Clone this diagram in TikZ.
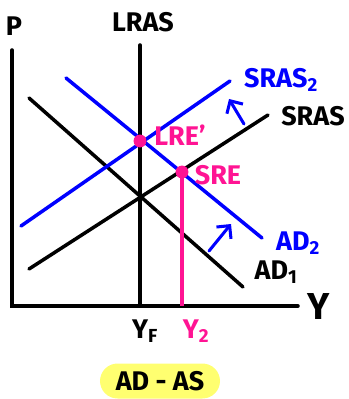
\documentclass[tikz,border=0pt]{standalone}
\usepackage{fontspec}
\setmainfont{Fira Sans}
\usetikzlibrary{arrows.meta, positioning}
\definecolor{hotpink}{HTML}{FF1493}
\definecolor{penblue}{HTML}{0000FF}
\definecolor{marker}{HTML}{FFFF70}

\begin{document}
\begin{tikzpicture}[
  x=0.03cm, y=-0.03cm,
  axis/.style={line width=3pt, line cap=round, black},
  curve/.style={line width=3pt, line cap=round},
  shiftarrow/.style={penblue, line width=2.6pt, line cap=round, -{Straight Barb[length=8pt, width=16pt, line width=2.6pt]}},
  lbl/.style={font=\fontsize{23}{23}\selectfont\bfseries, inner sep=0pt},
  eqdot/.style={circle, fill=hotpink, inner sep=0pt, minimum size=11pt},
]
\useasboundingbox (0,0) rectangle (349,399);

% Achsen
\coordinate (origin) at (12,306);
\coordinate (ptop) at (12,50);
\coordinate (yend) at (298,306);
\draw[axis] (ptop) -- (origin) -- (yend);
\node[lbl] (plabel) at (14,26) {P};
\node[lbl, font=\fontsize{32}{32}\selectfont\bfseries] (ylabel) at (319,307) {Y};

% LRAS
\coordinate (lrastop) at (140,45);
\coordinate (yf) at (140,306);
\draw[axis] (lrastop) -- (yf);
\node[lbl] (lraslabel) at (143,22) {LRAS};
\node[lbl] (yflabel) at (145,331) {Y\textsubscript{F}};

% Ausgangskurven
\coordinate (ad1a) at (29,98);
\coordinate (ad1b) at (243,287);
\coordinate (srasa) at (29,269);
\coordinate (srasb) at (268,115);
\draw[curve, black] (ad1a) -- (ad1b);
\draw[curve, black] (srasa) -- (srasb);

% verschobene Kurven
\coordinate (ad2a) at (66,78);
\coordinate (ad2b) at (262,238);
\coordinate (sras2a) at (21,226);
\coordinate (sras2b) at (230,81);
\draw[curve, penblue] (ad2a) -- (ad2b);
\draw[curve, penblue] (sras2a) -- (sras2b);

% Verschiebungspfeile
\coordinate (srasfrom) at (244,124);
\coordinate (srasto) at (229,99);
\coordinate (adfrom) at (209,251);
\coordinate (adto) at (231,224);
\draw[shiftarrow] (srasfrom) -- (srasto);
\draw[shiftarrow] (adfrom) -- (adto);

% Gleichgewichte
\node[eqdot] (lre) at (140,141) {};
\node[eqdot] (sre) at (182,172) {};
\coordinate (y2) at (182,306);
\draw[line width=3.2pt, hotpink] (sre.center) -- (y2);
\node[lbl, hotpink] (lrelabel) at (180,135) {LRE'};
\node[lbl, hotpink] (srelabel) at (218,175) {SRE};
\node[lbl, hotpink] (y2label) at (196,331) {Y\textsubscript{2}};

% Kurvenlabels
\node[lbl, penblue] (sras2label) at (281,80) {SRAS\textsubscript{2}};
\node[lbl] (saslabel) at (313,116) {SRAS};
\node[lbl, penblue] (ad2label) at (298,243) {AD\textsubscript{2}};
\node[lbl] (ad1label) at (276,272) {AD\textsubscript{1}};

% Titel
\node[lbl, fill=marker, rounded corners=15pt, minimum width=3.6cm, minimum height=1.05cm] (title) at (160,381) {AD - AS};

\end{tikzpicture}
\end{document}
